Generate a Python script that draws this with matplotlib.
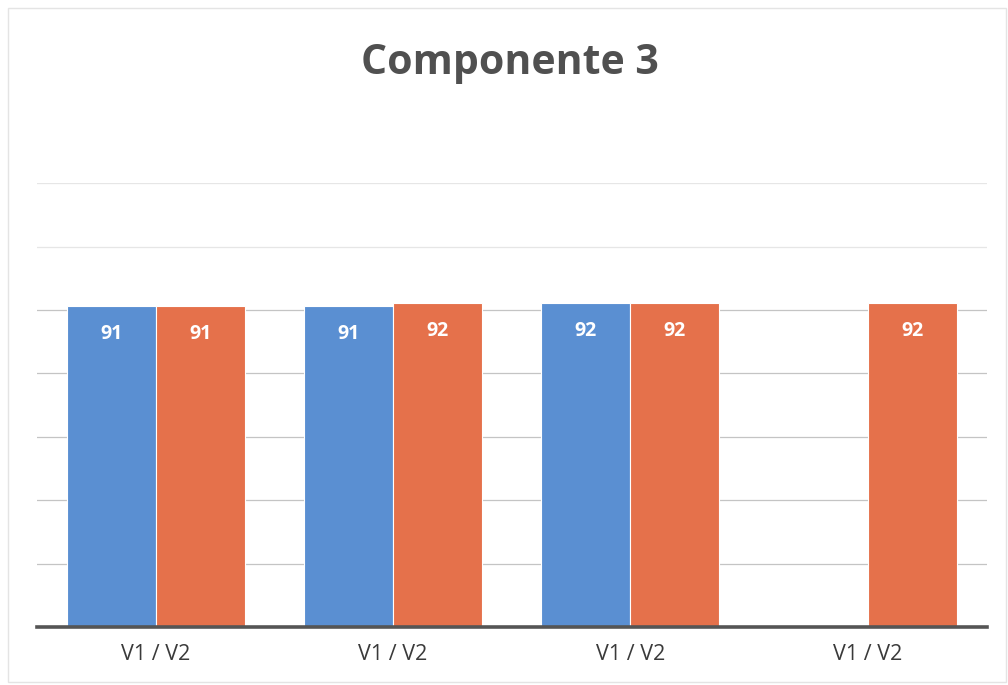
import numpy as np
import matplotlib.pyplot as plt
from matplotlib.patches import Rectangle

# Dados
categorias = ["V1 / V2", "V1 / V2", "V1 / V2", "V1 / V2"]
valores_v1 = [91, 91, 92, np.nan]
valores_v2 = [91, 92, 92, 92]
titulo = "Componente 3"

cor_v1 = "#5A8FD2"
cor_v2 = "#E5714B"

plt.rcParams['font.family'] = ['Open Sans', 'DejaVu Sans']

fig = plt.figure(figsize=(10.08, 6.85), dpi=100)
fig.patch.set_facecolor("white")

# moldura leve do gráfico (como na digitalização)
fig.add_artist(Rectangle((0.008, 0.004), 0.99, 0.984, transform=fig.transFigure,
                         fill=False, edgecolor="#e4e4e4", linewidth=1.0))

ax = fig.add_axes([0.0367, 0.0847, 0.942, 0.648])

x = np.arange(len(categorias))
largura = 0.375

# linhas de grade horizontais
ax.set_ylim(0, 126)
ax.set_yticks(np.arange(18, 127, 18))
ax.yaxis.grid(True, color="#c4c4c4", linewidth=0.9, zorder=0)
ax.set_axisbelow(True)
# as duas linhas de cima aparecem bem fracas na digitalização
for linha in ax.get_ygridlines()[-2:]:
    linha.set_color("#e6e6e6")

barras_v1 = ax.bar(x - largura / 2, valores_v1, largura, color=cor_v1,
                   edgecolor="white", linewidth=0.8, zorder=2)
barras_v2 = ax.bar(x + largura / 2, valores_v2, largura, color=cor_v2,
                   edgecolor="white", linewidth=0.8, zorder=2)

for barras, valores in [(barras_v1, valores_v1), (barras_v2, valores_v2)]:
    for b, v in zip(barras, valores):
        if np.isnan(v):
            continue
        ax.annotate(f"{v:.0f}", (b.get_x() + b.get_width() / 2, v),
                    xytext=(0, -20), textcoords="offset points",
                    ha="center", va="center", color="white",
                    fontsize=14, fontweight="bold", zorder=3)

ax.set_xlim(-0.5, 3.5)
ax.set_xticks(x)
ax.set_xticklabels(categorias, fontsize=15.5, color="#3a3a3a")
ax.tick_params(axis="x", length=0, pad=12)
ax.tick_params(axis="y", length=0, labelleft=False)

for lado in ["top", "right", "left"]:
    ax.spines[lado].set_visible(False)
ax.spines["bottom"].set_color("#555555")
ax.spines["bottom"].set_linewidth(2.6)
ax.spines["bottom"].set_zorder(4)

fig.text(0.506, 0.908, titulo, ha="center", va="center", fontsize=29.5,
         fontweight="bold", color="#505050")

fig.savefig("out.png", dpi=100)
